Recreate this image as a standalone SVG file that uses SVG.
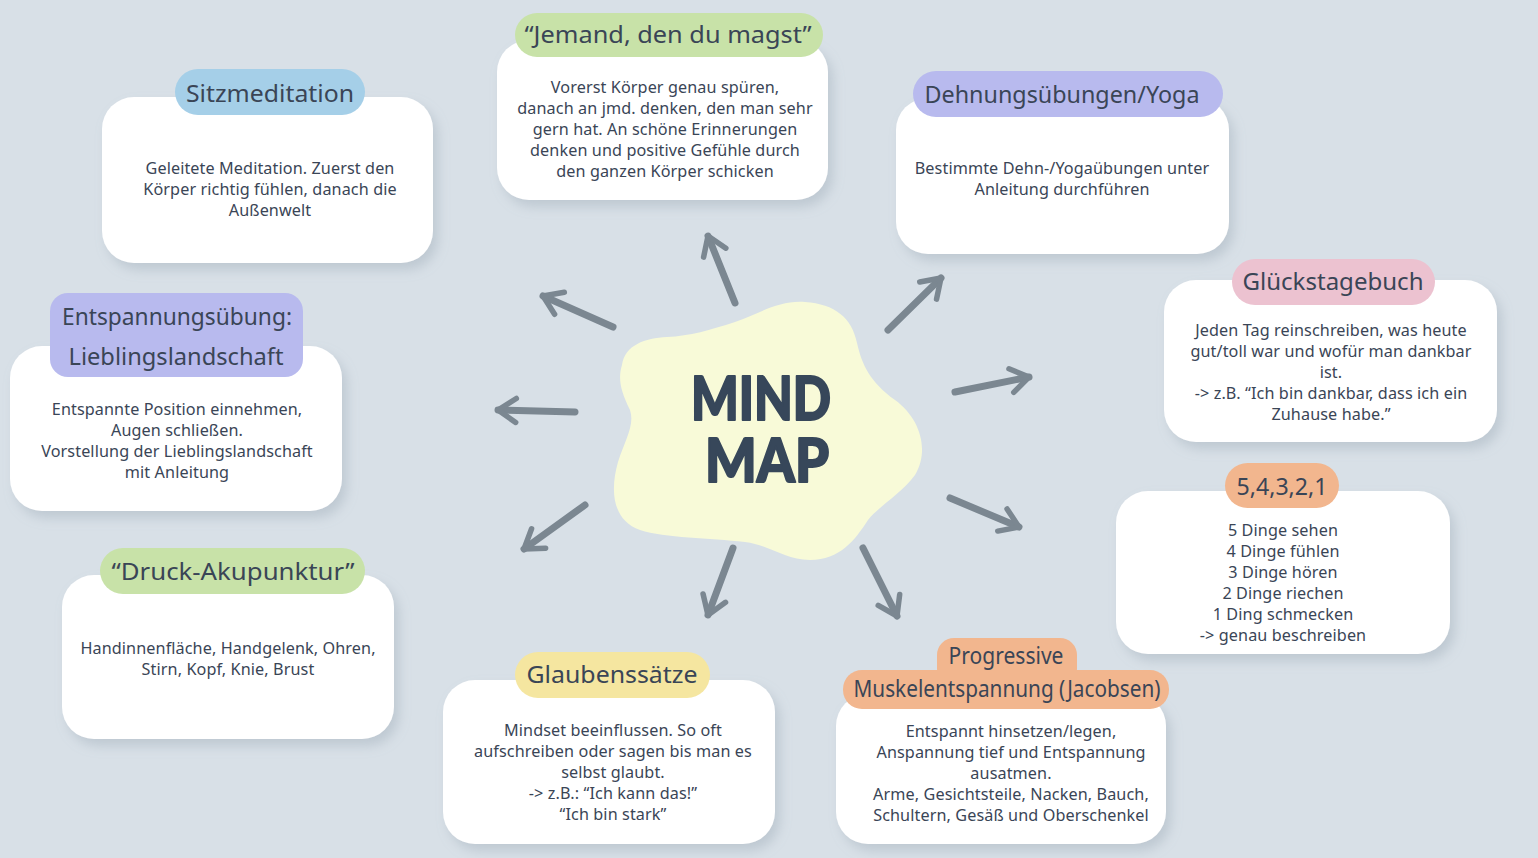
<svg xmlns="http://www.w3.org/2000/svg" width="1538" height="858" viewBox="0 0 1538 858">
<defs>
<filter id="sh" x="-10%" y="-10%" width="125%" height="135%">
<feDropShadow dx="5" dy="7" stdDeviation="6" flood-color="#8e9cab" flood-opacity="0.35"/>
</filter>
<marker id="ah" markerUnits="userSpaceOnUse" viewBox="-24 -16 28 32" markerWidth="28" markerHeight="32" refX="0" refY="0" orient="auto" overflow="visible">
<path d="M-18,-12 L0,0 L-18,12" fill="none" stroke="#7b8791" stroke-width="5.5" stroke-linecap="round" stroke-linejoin="round"/>
</marker>
<style>
.card{fill:#ffffff;filter:url(#sh)}
.t{font-family:"Noto Sans","Liberation Sans",sans-serif;font-size:24px;fill:#3a4556;text-anchor:middle}
.b{font-family:"Noto Sans","Liberation Sans",sans-serif;font-size:16.2px;letter-spacing:0.1px;fill:#3a4556;text-anchor:middle}
.blue{fill:#a5cfe8}.green{fill:#c8e2a8}.lav{fill:#b8baee}.pink{fill:#ecc2d0}.peach{fill:#f2b68e}.yel{fill:#f5e6a0}
.arr{fill:none;stroke:#7b8791;stroke-width:7;stroke-linecap:round;marker-end:url(#ah)}
.big{font-family:"Lato","Noto Sans",sans-serif;font-weight:900;font-size:60px;fill:#37475a;stroke:#37475a;stroke-width:2;stroke-linejoin:round;text-anchor:middle}
</style>
</defs>
<rect width="1538" height="858" fill="#d8e0e7"/>

<g id="connectors">
<path class="arr" d="M613,327 L543,296"/>
<path class="arr" d="M735,303 L708,236"/>
<path class="arr" d="M888,330 L941,278"/>
<path class="arr" d="M955,392 L1029,377"/>
<path class="arr" d="M950,498 L1019,527"/>
<path class="arr" d="M863,548 L897,616"/>
<path class="arr" d="M733,548 L708,615"/>
<path class="arr" d="M585,505 L524,549"/>
<path class="arr" d="M575,412 L498,410"/>
</g>

<g id="center">
<path fill="#f8fad8" d="M622,365 C625,345 645,338 667,337 C690,336 710,330 735,322 C760,313 780,300 805,302 C835,304 852,318 857,343 C862,365 870,382 895,400 C920,418 930,450 915,475 C900,495 880,505 868,520 C855,540 840,560 810,560 C785,560 770,545 745,542 C710,538 665,538 640,530 C612,520 610,490 618,462 C625,440 635,425 630,410 C620,390 618,378 622,365 Z"/>
<text class="big"><tspan x="761" y="420" textLength="140" lengthAdjust="spacingAndGlyphs">MIND</tspan><tspan x="767" y="482" textLength="124" lengthAdjust="spacingAndGlyphs">MAP</tspan></text>
</g>

<g id="sitzmeditation">
<rect class="card" x="102" y="97" width="331" height="166" rx="32"/>
<rect class="blue" x="175" y="69" width="190" height="46" rx="23"/>
<text class="t" x="270" y="102" textLength="168" lengthAdjust="spacingAndGlyphs">Sitzmeditation</text>
<text class="b" x="270" y="174">Geleitete Meditation. Zuerst den</text>
<text class="b" x="270" y="195">Körper richtig fühlen, danach die</text>
<text class="b" x="270" y="216">Außenwelt</text>
</g>

<g id="jemand">
<rect class="card" x="497" y="40" width="331" height="160" rx="32"/>
<rect class="green" x="515" y="13" width="308" height="44" rx="22"/>
<text class="t" x="668" y="43" textLength="287" lengthAdjust="spacingAndGlyphs">“Jemand, den du magst”</text>
<text class="b" x="665" y="93">Vorerst Körper genau spüren,</text>
<text class="b" x="665" y="114">danach an jmd. denken, den man sehr</text>
<text class="b" x="665" y="135">gern hat. An schöne Erinnerungen</text>
<text class="b" x="665" y="156">denken und positive Gefühle durch</text>
<text class="b" x="665" y="177">den ganzen Körper schicken</text>
</g>

<g id="dehnung">
<rect class="card" x="896" y="98" width="333" height="156" rx="32"/>
<rect class="lav" x="913" y="71" width="310" height="46" rx="23"/>
<text class="t" x="1062" y="103" textLength="275" lengthAdjust="spacingAndGlyphs">Dehnungsübungen/Yoga</text>
<text class="b" x="1062" y="174">Bestimmte Dehn-/Yogaübungen unter</text>
<text class="b" x="1062" y="195">Anleitung durchführen</text>
</g>

<g id="glueckstagebuch">
<rect class="card" x="1164" y="280" width="333" height="162" rx="32"/>
<rect class="pink" x="1232" y="259" width="203" height="46" rx="23"/>
<text class="t" x="1333" y="290" textLength="181" lengthAdjust="spacingAndGlyphs">Glückstagebuch</text>
<text class="b" x="1331" y="336">Jeden Tag reinschreiben, was heute</text>
<text class="b" x="1331" y="357">gut/toll war und wofür man dankbar</text>
<text class="b" x="1331" y="378">ist.</text>
<text class="b" x="1331" y="399">-&gt; z.B. “Ich bin dankbar, dass ich ein</text>
<text class="b" x="1331" y="420">Zuhause habe.”</text>
</g>

<g id="fuenf">
<rect class="card" x="1116" y="491" width="334" height="163" rx="32"/>
<rect class="peach" x="1225" y="463" width="114" height="45" rx="22.5"/>
<text class="t" x="1282" y="495" textLength="91" lengthAdjust="spacingAndGlyphs">5,4,3,2,1</text>
<text class="b" x="1283" y="536">5 Dinge sehen</text>
<text class="b" x="1283" y="557">4 Dinge fühlen</text>
<text class="b" x="1283" y="578">3 Dinge hören</text>
<text class="b" x="1283" y="599">2 Dinge riechen</text>
<text class="b" x="1283" y="620">1 Ding schmecken</text>
<text class="b" x="1283" y="641">-&gt; genau beschreiben</text>
</g>

<g id="progressive">
<rect class="card" x="836" y="694" width="330" height="150" rx="32"/>
<rect class="peach" x="937" y="638" width="140" height="48" rx="17"/>
<rect class="peach" x="843" y="670" width="326" height="39" rx="19"/>
<text class="t" x="1006" y="664" textLength="115" lengthAdjust="spacingAndGlyphs">Progressive</text>
<text class="t" x="1007" y="697" textLength="307" lengthAdjust="spacingAndGlyphs">Muskelentspannung (Jacobsen)</text>
<text class="b" x="1011" y="737">Entspannt hinsetzen/legen,</text>
<text class="b" x="1011" y="758">Anspannung tief und Entspannung</text>
<text class="b" x="1011" y="779">ausatmen.</text>
<text class="b" x="1011" y="800">Arme, Gesichtsteile, Nacken, Bauch,</text>
<text class="b" x="1011" y="821">Schultern, Gesäß und Oberschenkel</text>
</g>

<g id="glaubenssaetze">
<rect class="card" x="443" y="680" width="332" height="164" rx="32"/>
<rect class="yel" x="515" y="652" width="195" height="46" rx="23"/>
<text class="t" x="612" y="683" textLength="171" lengthAdjust="spacingAndGlyphs">Glaubenssätze</text>
<text class="b" x="613" y="736">Mindset beeinflussen. So oft</text>
<text class="b" x="613" y="757">aufschreiben oder sagen bis man es</text>
<text class="b" x="613" y="778">selbst glaubt.</text>
<text class="b" x="613" y="799">-&gt; z.B.: “Ich kann das!”</text>
<text class="b" x="613" y="820">“Ich bin stark”</text>
</g>

<g id="druck">
<rect class="card" x="62" y="575" width="332" height="164" rx="32"/>
<rect class="green" x="100" y="548" width="265" height="46" rx="23"/>
<text class="t" x="233" y="580" textLength="243" lengthAdjust="spacingAndGlyphs">“Druck-Akupunktur”</text>
<text class="b" x="228" y="654">Handinnenfläche, Handgelenk, Ohren,</text>
<text class="b" x="228" y="675">Stirn, Kopf, Knie, Brust</text>
</g>

<g id="entspannung">
<rect class="card" x="10" y="346" width="332" height="165" rx="32"/>
<rect class="lav" x="50" y="293" width="253" height="84" rx="18"/>
<text class="t" x="177" y="325" textLength="230" lengthAdjust="spacingAndGlyphs">Entspannungsübung:</text>
<text class="t" x="176" y="365" textLength="215" lengthAdjust="spacingAndGlyphs">Lieblingslandschaft</text>
<text class="b" x="177" y="415">Entspannte Position einnehmen,</text>
<text class="b" x="177" y="436">Augen schließen.</text>
<text class="b" x="177" y="457">Vorstellung der Lieblingslandschaft</text>
<text class="b" x="177" y="478">mit Anleitung</text>
</g>
</svg>
